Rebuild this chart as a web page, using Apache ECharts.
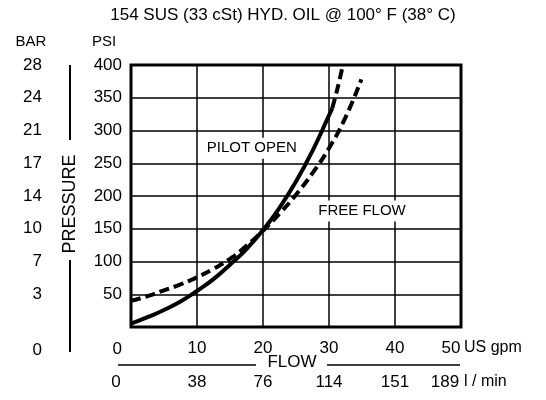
<!DOCTYPE html>
<html><head><meta charset="utf-8">
<script src="https://cdn.jsdelivr.net/npm/echarts@6/dist/echarts.min.js"></script>
<style>html,body{margin:0;padding:0;background:#fff}#c{width:546px;height:400px}</style>
</head><body><div id="c"></div>
<script>
// ---- data ----
const titleText = '154 SUS (33 cSt) HYD. OIL @ 100° F (38° C)';
const gpmTicks = [0, 10, 20, 30, 40, 50];
const gpmLabels = ['0', '10', '20', '30', '40', '50'];
const lpmLabels = ['0', '38', '76', '114', '151', '189'];
const psiTicks = [0, 50, 100, 150, 200, 250, 300, 350, 400];
const psiLabels = ['0', '50', '100', '150', '200', '250', '300', '350', '400'];
const barLabels = ['0', '3', '7', '10', '14', '17', '21', '24', '28'];

const pilotGpm = [0, 2.5, 5, 7.5, 10, 12.5, 15, 17.5, 20, 22.5, 25, 27.5, 30, 30.5];
const pilotPsi = [5, 15, 26, 39, 55, 73, 95, 119, 148, 182, 222, 269, 323, 334];
const pilotExtGpm = [30.5, 31, 31.5, 32.1];
const pilotExtPsi = [334, 353, 373, 400];
const freeGpm = [0, 2.5, 5, 7.5, 10, 12.5, 15, 17.5, 20, 22.5, 25, 27.5, 30, 32.5, 34.9];
const freePsi = [40, 47, 56, 65, 76, 89, 104, 124, 147, 173, 202, 235, 273, 320, 378];

const pilotLabel = 'PILOT OPEN';
const freeLabel = 'FREE FLOW';
const pilotLabelAt = [18.3, 273];
const freeLabelAt = [35.0, 177];

// ---- chart ----
const FONT = '"Liberation Sans", Arial, Helvetica, sans-serif';
const FS = 17;
const zip = (a, b) => a.map((v, i) => [v, b[i]]);
const chart = echarts.init(document.getElementById('c'));

const lineBase = { type: 'line', smooth: 0.5, showSymbol: false, symbol: 'none', silent: true, animation: false };
const rt = { fontSize: FS, color: '#000', fontFamily: FONT };

chart.setOption({
  animation: false,
  backgroundColor: '#fff',
  grid: { left: 131, right: 85, top: 65, bottom: 73, show: true, borderColor: '#000', borderWidth: 3, backgroundColor: 'transparent' },
  xAxis: [
    { type: 'value', min: 0, max: 50, interval: 10, position: 'bottom',
      axisLine: { show: false }, axisTick: { show: false },
      splitLine: { show: true, lineStyle: { color: '#000', width: 1.5 } },
      axisLabel: { margin: 13, fontSize: FS, color: '#000', fontFamily: FONT,
        formatter: v => { const s = gpmLabels[gpmTicks.indexOf(v)]; return v === 0 ? '' : v === 50 ? '{b|' + s + '}' : s; },
        rich: { b: Object.assign({ padding: [0, 20, 0, 0] }, rt) } } },
    { type: 'value', min: 0, max: 50, interval: 10, position: 'bottom', offset: 34,
      axisLine: { show: false }, axisTick: { show: false }, splitLine: { show: false },
      axisLabel: { margin: 13, fontSize: FS, color: '#000', fontFamily: FONT,
        formatter: v => { const s = lpmLabels[gpmTicks.indexOf(v)]; return v === 0 ? '{a|' + s + '}' : v === 50 ? '{c|' + s + '}' : s; },
        rich: { a: Object.assign({ padding: [0, 30, 0, 0] }, rt), c: Object.assign({ padding: [0, 32, 0, 0] }, rt) } } }
  ],
  yAxis: [
    { type: 'value', min: 0, max: 400, interval: 50, position: 'left',
      axisLine: { show: false }, axisTick: { show: false },
      splitLine: { show: true, lineStyle: { color: '#000', width: 1.5 } },
      axisLabel: { margin: 9, fontSize: FS, color: '#000', fontFamily: FONT,
        formatter: v => { const s = psiLabels[psiTicks.indexOf(v)]; return v === 0 ? '{z|' + s + '}' : s; },
        rich: { z: Object.assign({ padding: [44, 0, 0, 0] }, rt) } } },
    { type: 'value', min: 0, max: 400, interval: 50, position: 'left', offset: 80,
      axisLine: { show: false }, axisTick: { show: false }, splitLine: { show: false },
      axisLabel: { margin: 9, fontSize: FS, color: '#000', fontFamily: FONT,
        formatter: v => { const s = barLabels[psiTicks.indexOf(v)]; return v === 0 ? '{z|' + s + '}' : s; },
        rich: { z: Object.assign({ padding: [46, 0, 0, 0] }, rt) } } }
  ],
  series: [
    Object.assign({}, lineBase, { name: 'Pilot open', data: zip(pilotGpm, pilotPsi), lineStyle: { color: '#000', width: 4, type: 'solid', cap: 'butt' } }),
    Object.assign({}, lineBase, { name: 'Pilot open ext', data: zip(pilotExtGpm, pilotExtPsi), lineStyle: { color: '#000', width: 4, type: [10, 5] } }),
    Object.assign({}, lineBase, { name: 'Free flow', data: zip(freeGpm, freePsi), lineStyle: { color: '#000', width: 4, type: [10, 5] } })
  ]
});

const pp = chart.convertToPixel({ xAxisIndex: 0, yAxisIndex: 0 }, pilotLabelAt);
const fp = chart.convertToPixel({ xAxisIndex: 0, yAxisIndex: 0 }, freeLabelAt);
const txt = (x, y, text, size, extra) => ({
  type: 'text', x: x, y: y, z: 100,
  style: Object.assign({ text: text, fill: '#000', font: size + 'px ' + FONT, align: 'center', verticalAlign: 'middle' }, extra || {})
});

chart.setOption({
  graphic: [
    txt(283, 15, titleText, 17),
    txt(31, 42, 'BAR', 15),
    txt(104, 42, 'PSI', 15),
    Object.assign(txt(70, 204, 'PRESSURE', 18), { rotation: Math.PI / 2 }),
    { type: 'line', z: 100, shape: { x1: 70, y1: 65, x2: 70, y2: 140 }, style: { stroke: '#000', lineWidth: 2 } },
    { type: 'line', z: 100, shape: { x1: 70, y1: 260, x2: 70, y2: 352 }, style: { stroke: '#000', lineWidth: 2 } },
    txt(292, 362, 'FLOW', 17),
    { type: 'line', z: 100, shape: { x1: 118, y1: 365, x2: 256, y2: 365 }, style: { stroke: '#000', lineWidth: 1.5 } },
    { type: 'line', z: 100, shape: { x1: 327, y1: 365, x2: 460, y2: 365 }, style: { stroke: '#000', lineWidth: 1.5 } },
    txt(464, 348, 'US gpm', 16, { align: 'left' }),
    txt(464, 382, 'l / min', 16, { align: 'left' }),
    txt(pp[0], pp[1], pilotLabel, 15, { backgroundColor: '#fff', padding: [3, 2] }),
    txt(fp[0], fp[1], freeLabel, 15, { backgroundColor: '#fff', padding: [3, 2] })
  ]
});
</script>
</body></html>
